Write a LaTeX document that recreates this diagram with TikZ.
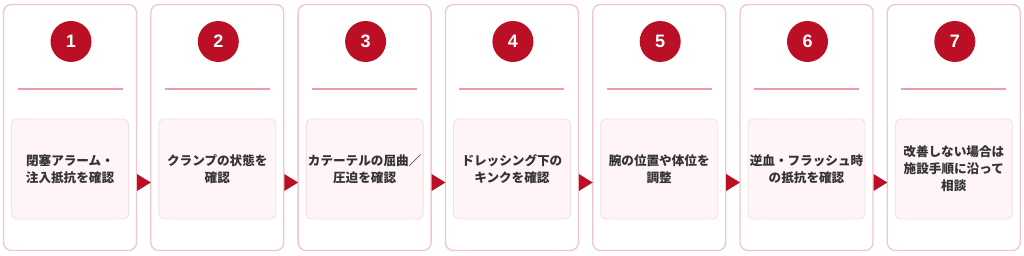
\documentclass[tikz,border=0pt]{standalone}
\usepackage{fontspec}
\newfontfamily\jp{Noto Sans CJK JP}
\newfontfamily\numfont{Liberation Sans}
\usetikzlibrary{calc}
\definecolor{cardborder}{HTML}{F4C4CC}
\definecolor{rulecol}{HTML}{EE9CA6}
\definecolor{boxfill}{HTML}{FFF4F6}
\definecolor{boxborder}{HTML}{FADCE1}
\definecolor{stepred}{HTML}{BA0F25}
\definecolor{txt}{HTML}{333333}
\begin{document}
\begin{tikzpicture}[x=1pt,y=-1pt,
  card/.style={draw=cardborder, line width=1.3pt, rounded corners=8pt, fill=white,
    minimum width=133pt, minimum height=246pt, inner sep=0pt, outer sep=0pt},
  numcircle/.style={circle, fill=stepred, minimum size=41pt, inner sep=0pt,
    text=white, font=\numfont\bfseries\fontsize{18}{18}\selectfont},
  sep/.style={draw=rulecol, line width=1.6pt},
  stepbox/.style={draw=boxborder, line width=0.8pt, rounded corners=5pt, fill=boxfill,
    minimum width=117pt, minimum height=100pt, inner sep=0pt, align=center,
    text=txt, font=\jp\bfseries\fontsize{12.6}{17}\selectfont},
  flow/.style={fill=stepred}
]
\useasboundingbox (0,0) rectangle (1024,256);
\foreach \i/\t in {
  1/{閉塞アラーム・\\注入抵抗を確認},
  2/{クランプの状態を\\確認},
  3/{カテーテルの屈曲／\\圧迫を確認},
  4/{ドレッシング下の\\キンクを確認},
  5/{腕の位置や体位を\\調整},
  6/{逆血・フラッシュ時\\の抵抗を確認},
  7/{改善しない場合は\\施設手順に沿って\\相談}} {
  \pgfmathsetmacro{\cx}{70+147.3*(\i-1)}
  \node[card] (c\i) at (\cx,127.5) {};
  \node[numcircle] (n\i) at (\cx+1,41.5) {\i};
  \coordinate (la\i) at (\cx-52.5,89);
  \coordinate (lb\i) at (\cx+52.5,89);
  \draw[sep] (la\i) -- (lb\i);
  \node[stepbox] (b\i) at (\cx,169) {\t};
}
\foreach \i/\j in {1/2,2/3,3/4,4/5,5/6,6/7} {
  \coordinate (ta\i) at ($(c\i.east)+(0.5,46.5)$);
  \coordinate (tb\i) at ($(c\i.east)+(0.5,63.5)$);
  \coordinate (tc\i) at ($(c\j.west)+(0,55)$);
  \fill[flow] (ta\i) -- (tc\i) -- (tb\i) -- cycle;
}
\end{tikzpicture}
\end{document}
